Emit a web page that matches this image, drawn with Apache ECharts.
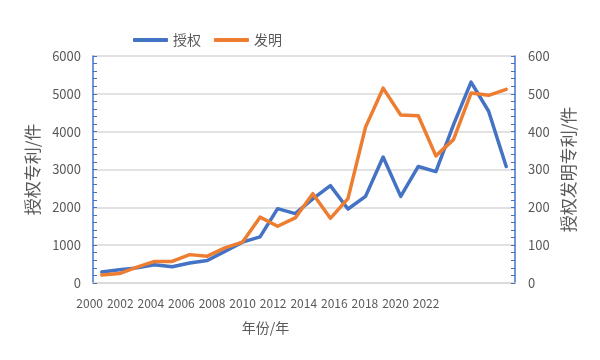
<!DOCTYPE html>
<html>
<head>
<meta charset="utf-8">
<script src="https://cdn.jsdelivr.net/npm/echarts@6/dist/echarts.min.js"></script>
<style>html,body{margin:0;padding:0;background:#fff;}#c{width:600px;height:360px;}</style>
</head>
<body>
<div id="c"></div>
<script>
const years = ['2000','2001','2002','2003','2004','2005','2006','2007','2008','2009','2010','2011','2012','2013','2014','2015','2016','2017','2018','2019','2020','2021','2022','2023'];
const granted = [290, 350, 400, 480, 430, 530, 595, 835, 1080, 1220, 1965, 1835, 2225, 2575, 1955, 2290, 3330, 2290, 3080, 2945, 4180, 5310, 4540, 3080];
const invention = [21, 25, 42, 57, 57, 75, 71, 93, 108, 174, 150, 172, 236, 171, 223, 412, 515, 444, 442, 336, 379, 502, 496, 512];
const seriesNames = ['授权', '发明'];
const leftName = '授权专利/件';
const rightName = '授权发明专利/件';
const xName = '年份/年';

const FONT = '"Noto Sans CJK SC", "Microsoft YaHei", sans-serif';
const GREY = '#595959';
const BLUE = '#4472C4';
const ORANGE = '#ED7D31';

const plain = v => String(v);

const chart = echarts.init(document.getElementById('c'), null, {renderer: 'canvas'});
chart.setOption({
  animation: false,
  textStyle: {fontFamily: FONT, color: GREY},
  legend: {
    left: 128, top: 28,
    icon: 'roundRect',
    itemWidth: 35, itemHeight: 4, itemGap: 13,
    textStyle: {fontSize: 14, color: GREY, fontFamily: FONT},
    data: seriesNames
  },
  grid: [
    {left: 93, right: 85, top: 56, bottom: 77, containLabel: false},
    {left: 82, width: 367, top: 56, bottom: 77, containLabel: false}
  ],
  xAxis: [
    {
      type: 'category', gridIndex: 0, data: years, boundaryGap: true,
      axisLine: {show: true, lineStyle: {color: '#d9d9d9', width: 1.5}},
      axisTick: {show: false},
      axisLabel: {show: false}
    },
    {
      type: 'category', gridIndex: 1, data: years, boundaryGap: true,
      axisLine: {show: false}, axisTick: {show: false},
      axisLabel: {interval: 1, margin: 14, fontSize: 12, color: GREY, fontFamily: FONT},
      name: xName, nameLocation: 'middle', nameGap: 38,
      nameTextStyle: {fontSize: 14, color: GREY, fontFamily: FONT}
    }
  ],
  yAxis: [
    {
      type: 'value', gridIndex: 0, position: 'left', min: 0, max: 6000, interval: 1000,
      axisLine: {show: true, lineStyle: {color: BLUE, width: 1.5}},
      axisTick: {show: true, inside: true, length: 4, lineStyle: {color: BLUE, width: 1}},
      minorTick: {show: true, splitNumber: 5, length: 4, lineStyle: {color: BLUE, width: 1}},
      axisLabel: {margin: 12, fontSize: 13, color: GREY, fontFamily: FONT, formatter: plain},
      splitLine: {show: true, lineStyle: {color: '#d9d9d9', width: 1.5}},
      name: leftName, nameLocation: 'middle', nameGap: 52, nameRotate: 90,
      nameTextStyle: {fontSize: 17, color: GREY, fontFamily: FONT}
    },
    {
      type: 'value', gridIndex: 0, position: 'right', min: 0, max: 600, interval: 100,
      axisLine: {show: true, lineStyle: {color: BLUE, width: 1.5}},
      axisTick: {show: true, inside: true, length: 4, lineStyle: {color: BLUE, width: 1}},
      minorTick: {show: true, splitNumber: 5, length: 4, lineStyle: {color: BLUE, width: 1}},
      axisLabel: {margin: 13, fontSize: 13, color: GREY, fontFamily: FONT, formatter: plain},
      splitLine: {show: false},
      name: rightName, nameLocation: 'middle', nameGap: 45, nameRotate: 90,
      nameTextStyle: {fontSize: 17, color: GREY, fontFamily: FONT}
    },
    {
      type: 'value', gridIndex: 1, show: false, min: 0, max: 1
    }
  ],
  series: [
    {
      name: seriesNames[0], type: 'line', xAxisIndex: 0, yAxisIndex: 0,
      data: granted, symbol: 'none', showSymbol: false,
      lineStyle: {color: BLUE, width: 3.5, cap: 'round', join: 'round'},
      itemStyle: {color: BLUE}
    },
    {
      name: seriesNames[1], type: 'line', xAxisIndex: 0, yAxisIndex: 1,
      data: invention, symbol: 'none', showSymbol: false,
      lineStyle: {color: ORANGE, width: 3.5, cap: 'round', join: 'round'},
      itemStyle: {color: ORANGE}
    }
  ]
});
</script>
</body>
</html>
